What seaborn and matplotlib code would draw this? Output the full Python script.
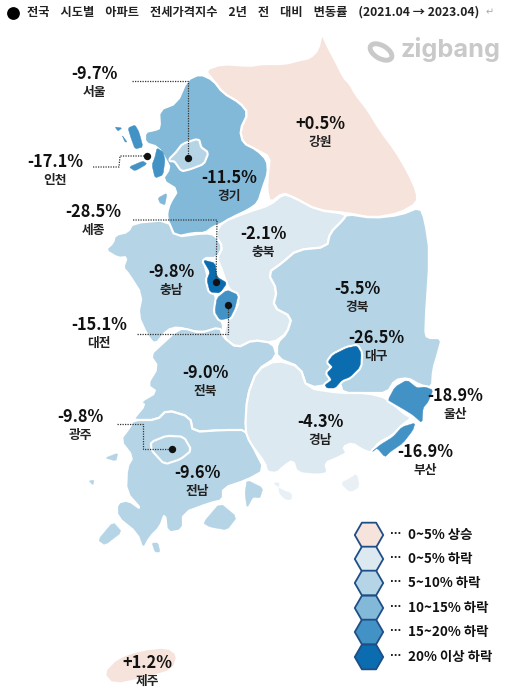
import numpy as np
import pandas as pd
import seaborn as sns
import matplotlib.pyplot as plt
from matplotlib.patches import Ellipse

# Values
regions = ['서울', '강원', '경기', '인천', '세종', '충북', '충남', '경북', '대전',
           '대구', '전북', '울산', '광주', '경남', '부산', '전남', '제주']
changes = [-9.7, 0.5, -11.5, -17.1, -28.5, -2.1, -9.8, -5.5, -15.1,
           -26.5, -9.0, -18.9, -9.8, -4.3, -16.9, -9.6, 1.2]
label_x = [94, 320, 229, 55, 93, 263, 171, 357, 99, 376, 205, 455, 80, 320, 425, 197, 147]
label_y = [74, 124, 178, 162, 212, 234, 272, 289, 325, 338, 373, 396, 417, 422, 452, 473, 663]

legend_labels = ['0~5% 상승', '0~5% 하락', '5~10% 하락', '10~15% 하락', '15~20% 하락', '20% 이상 하락']
legend_colors = ['#F6E3DB', '#DDE9F1', '#B5D4E6', '#83B9D8', '#4392C5', '#0B6CB0']
legend_y = [535, 559, 583, 608, 632, 657]

gangwon = [(205,70),(222,64),(250,66),(262,64),(285,64),(300,60),(310,58),(318,50),(322,33),(322,33),(327,45),(335,60),(344,78),(350,84),(356,95),(368,110),(380,130),(395,150),(408,172),(417,192),(417,203),(400,213),(373,218),(347,213),(317,210),(293,197),(283,193),(270,203),(267,190),(268,173),(270,157),(257,150),(243,143),(240,130),(248,113),(240,103),(223,93),(213,80)]
gyeonggi = [(200,74),(213,80),(223,93),(240,103),(248,113),(240,130),(243,143),(257,150),(267,160),(268,173),(263,187),(258,203),(248,210),(233,217),(223,223),(213,227),(205,233),(193,233),(175,237),(168,222),(167,213),(170,203),(178,190),(162,180),(170,168),(166,160),(158,147),(145,143),(145,132),(155,130),(160,128),(159,110),(177,103),(187,80)]
seoul = [(177,153),(183,145),(198,140),(200,148),(207,153),(203,163),(190,168),(182,170),(175,160),(170,160)]
incheon = [(157,148),(163,152),(165,160),(163,175),(155,178),(152,165),(155,157)]
ganghwa = [(128,128),(135,125),(139,132),(143,147),(135,149),(131,138)]
incheon_isles = [[(115,127),(122,128),(118,131)], [(122,135),(127,142),(125,142)], [(129,167),(143,161),(147,164),(135,171)]]
gyeonggi_isles = [[(158,198),(167,193),(165,205),(160,203)]]
chungnam = [(133,223),(168,220),(175,237),(205,233),(215,235),(223,247),(217,258),(203,258),(208,278),(207,287),(217,297),(215,312),(223,323),(223,332),(195,332),(178,327),(167,330),(155,345),(147,335),(138,315),(142,295),(128,273),(123,268),(127,257),(118,258),(105,250),(113,243),(115,235),(128,232)]
chungbuk = [(215,235),(222,222),(248,212),(270,205),(283,194),(293,197),(317,210),(347,214),(343,220),(330,233),(327,247),(297,250),(282,263),(268,273),(277,290),(273,307),(292,317),(287,333),(273,343),(253,340),(237,348),(223,337),(228,317),(232,317),(240,300),(228,288),(222,270),(217,258),(223,247)]
daejeon = [(217,298),(227,290),(238,295),(235,308),(230,318),(220,320),(215,312)]
sejong = [(203,260),(215,263),(217,277),(227,283),(220,293),(210,292),(207,280),(210,272)]
gyeongbuk = [(347,214),(373,218),(400,215),(420,207),(425,220),(430,253),(425,330),(427,338),(442,338),(438,353),(433,370),(432,388),(420,385),(408,378),(395,380),(387,393),(367,393),(343,393),(340,383),(307,388),(300,367),(277,358),(277,343),(287,333),(292,317),(273,307),(277,290),(268,273),(282,263),(297,250),(327,247),(330,233),(343,220)]
daegu = [(333,355),(347,348),(357,346),(361,353),(360,367),(350,377),(342,380),(335,388),(327,388),(325,385),(332,380),(327,373),(333,367),(328,362)]
ulsan = [(388,400),(395,387),(407,380),(417,388),(425,387),(433,390),(428,402),(423,408),(422,423),(413,415),(405,410),(393,403)]
busan = [(415,423),(413,430),(403,443),(390,452),(385,457),(377,448),(372,452),(380,445),(393,437),(402,427)]
jeonbuk = [(175,332),(183,328),(200,333),(220,327),(223,337),(237,348),(253,340),(273,343),(277,357),(257,370),(247,397),(247,427),(250,440),(223,430),(193,432),(190,417),(167,410),(157,420),(133,420),(135,417),(145,405),(140,402),(157,392),(147,385),(158,367),(150,355),(163,343)]
jeonnam = [(133,420),(157,420),(167,410),(190,417),(193,432),(223,430),(247,430),(253,447),(265,470),(247,480),(223,488),(223,500),(210,503),(183,513),(183,530),(167,533),(165,513),(160,527),(150,537),(143,550),(137,533),(117,517),(117,503),(128,500),(142,510),(126,492),(127,467),(133,457),(120,440),(130,427)]
gwangju = [(152,443),(167,437),(183,438),(190,450),(180,458),(165,463),(153,450)]
jeonnam_isles = [[(98,540),(113,522),(122,532),(105,545)], [(203,523),(220,503),(237,517),(227,530),(210,527)], [(247,480),(263,488),(260,498),(253,497),(247,508),(245,493)], [(105,458),(118,453),(116,461)], [(89,481),(94,480),(93,485)], [(152,543),(158,543),(160,552),(155,552)]]
gyeongnam = [(277,360),(300,367),(307,388),(340,393),(367,393),(387,398),(403,413),(412,418),(402,425),(393,435),(378,443),(372,453),(363,450),(352,443),(343,447),(347,453),(337,458),(325,463),(328,473),(318,475),(297,473),(293,460),(283,467),(277,473),(267,472),(265,463),(250,443),(245,430),(247,397),(257,370)]
gyeongnam_isles = [[(272,483),(280,482),(278,492),(285,500),(292,500),(292,493),(283,490)], [(357,473),(360,487),(350,493),(340,483),(350,478)]]
jeju = [(103,673),(117,658),(140,650),(167,647),(178,655),(173,670),(147,678),(113,685)]

# Leader lines from label to dot
leaders = [[(132,81),(188,81),(188,158)], [(93,167),(119,167),(120,156),(147,156)],
           [(133,220),(217,220),(216,282)], [(137,334),(228,334),(228,305)],
           [(117,424),(143,424),(143,449),(172,449)]]
dot_x = [188, 147, 216, 228, 172]
dot_y = [158, 156, 282, 305, 449]

sns.set_theme(style='white')
plt.rcParams['font.family'] = ['Noto Sans CJK KR', 'DejaVu Sans']

df = pd.DataFrame({'region': regions, 'change': changes, 'x': label_x, 'y': label_y})
# bins match the legend: rising, then falling by 5 point steps
df['bin'] = np.digitize(df['change'], [0, -5, -10, -15, -20][::-1])
df['color'] = [legend_colors[5 - b] for b in df['bin']]
colors = dict(zip(df['region'], df['color']))

fig, ax = plt.subplots(figsize=(5.13, 6.97), dpi=100)
ax.set_position([0, 0, 1, 1])
ax.set_xlim(0, 513)
ax.set_ylim(697, 0)
ax.axis('off')


def soften(shape, r=0.22):
    # one pass of corner cutting so the outlines look less angular
    pts = np.array(shape, dtype=float)
    nxt = np.roll(pts, -1, axis=0)
    out = np.empty((len(pts) * 2, 2))
    out[0::2] = pts + r * (nxt - pts)
    out[1::2] = pts + (1 - r) * (nxt - pts)
    return out


def fill_region(shape, name, lw=1.6, color=None):
    pts = soften(shape)
    ax.fill(pts[:, 0], pts[:, 1], facecolor=color or colors[name], edgecolor='white', linewidth=lw,
            joinstyle='round', zorder=2)


def fill_small(shape, name, halo=3.4):
    # white halo underneath, so the stroke does not eat into a small shape
    pts = soften(shape, 0.15)
    if halo:
        ax.fill(pts[:, 0], pts[:, 1], facecolor='white', edgecolor='white', linewidth=halo,
                joinstyle='round', zorder=2)
    ax.fill(pts[:, 0], pts[:, 1], facecolor=colors[name], edgecolor=colors[name], linewidth=0.3, zorder=2)


for shape, name in [(gangwon, '강원'), (gyeonggi, '경기'), (chungnam, '충남'), (chungbuk, '충북'),
                    (gyeongbuk, '경북'), (jeonbuk, '전북'), (jeonnam, '전남'), (gyeongnam, '경남'),
                    (jeju, '제주')]:
    fill_region(shape, name)
for shape in [incheon, ganghwa] + incheon_isles:
    fill_small(shape, '인천', 0)
for shape in gyeonggi_isles:
    fill_small(shape, '경기', 0)
for shape in jeonnam_isles:
    fill_small(shape, '전남', 0)
for shape in gyeongnam_isles:
    fill_region(shape, '경남', 0.2, color='#E8F0F5')
for shape, name in [(seoul, '서울'), (gwangju, '광주'), (sejong, '세종'), (daejeon, '대전'),
                    (daegu, '대구'), (ulsan, '울산'), (busan, '부산')]:
    fill_small(shape, name)

for line in leaders:
    xs, ys = zip(*line)
    ax.plot(xs, ys, color='#333333', linewidth=0.9, linestyle=(0, (1, 1)), zorder=3)
sns.scatterplot(x=dot_x, y=dot_y, color='#111111', s=28, linewidth=0, ax=ax, zorder=4, legend=False)

for _, row in df.iterrows():
    ax.text(row['x'], row['y'], f"{row['change']:+.1f}%", ha='center', va='center', fontsize=11.8,
            fontweight='bold', color='#111111', zorder=5)
    ax.text(row['x'], row['y'] + 18.5, row['region'], ha='center', va='center', fontsize=9.2,
            fontweight='bold', color='#222222', zorder=5)

# Legend
legend_df = pd.DataFrame({'label': legend_labels, 'y': legend_y, 'x': 369})
sns.scatterplot(data=legend_df, x='x', y='y', hue='label', palette=legend_colors, hue_order=legend_labels,
                marker='H', s=420, edgecolor='#1F4E87', linewidth=1.3, ax=ax, legend=False, zorder=3)
for label, y in zip(legend_labels, legend_y):
    ax.text(390, y - 1, '···', ha='left', va='center', fontsize=7, fontweight='bold', color='#222222',
            family='DejaVu Sans')
    ax.text(408, y, label, ha='left', va='center', fontsize=9.7, fontweight='bold', color='#111111')

# Title
sns.scatterplot(x=[13], y=[13], color='black', s=85, linewidth=0, ax=ax, legend=False)
ax.text(27, 12, '전국    시도별    아파트    전세가격지수    2년    전    대비    변동률    (2021.04 → 2023.04)',
        ha='left', va='center', fontsize=8.8, fontweight='bold', color='#222222')
ax.text(486, 12, '↵', ha='left', va='center', fontsize=7, color='#AAAAAA', family='DejaVu Sans')

# Logo
ax.text(400, 50, 'zigbang', ha='left', va='center', fontsize=18.2, fontweight='bold',
        family='Inter', color='#C9C9C9')
ax.add_patch(Ellipse((381, 52), 24, 13, angle=30, fill=False, edgecolor='#C9C9C9', linewidth=3.5))

fig.savefig('out.png', dpi=100)
